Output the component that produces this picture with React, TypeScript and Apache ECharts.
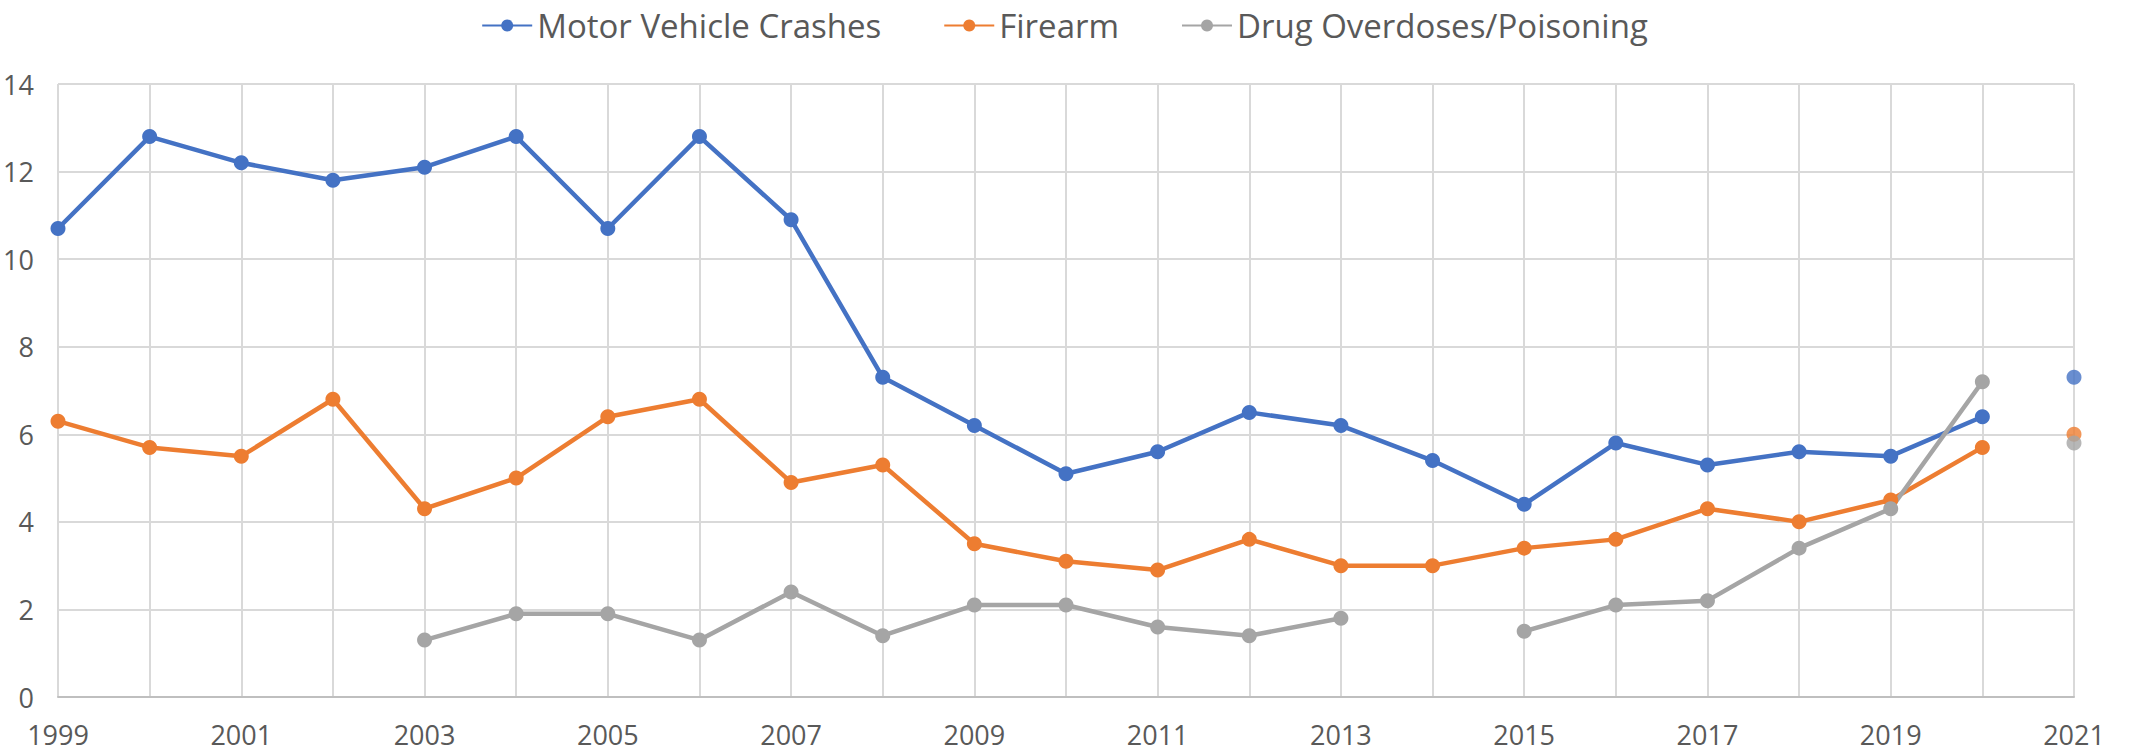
import React, { useEffect, useRef } from "react";
import * as echarts from "echarts";

const years = ["1999","2000","2001","2002","2003","2004","2005","2006","2007","2008","2009","2010","2011","2012","2013","2014","2015","2016","2017","2018","2019","2020","2021"];
const motorVehicle = [10.7, 12.8, 12.2, 11.8, 12.1, 12.8, 10.7, 12.8, 10.9, 7.3, 6.2, 5.1, 5.6, 6.5, 6.2, 5.4, 4.4, 5.8, 5.3, 5.6, 5.5, 6.4, null];
const firearm = [6.3, 5.7, 5.5, 6.8, 4.3, 5.0, 6.4, 6.8, 4.9, 5.3, 3.5, 3.1, 2.9, 3.6, 3.0, 3.0, 3.4, 3.6, 4.3, 4.0, 4.5, 5.7, null];
const drug = [null, null, null, null, 1.3, 1.9, 1.9, 1.3, 2.4, 1.4, 2.1, 2.1, 1.6, 1.4, 1.8, null, 1.5, 2.1, 2.2, 3.4, 4.3, 7.2, null];
// 2021 values are plotted as unconnected points
const year2021 = "2021";
const motorVehicle2021 = 7.3;
const firearm2021 = 6.0;
const drug2021 = 5.8;
const seriesNames = ["Motor Vehicle Crashes", "Firearm", "Drug Overdoses/Poisoning"];
const colors = ["#4472C4", "#ED7D31", "#A5A5A5"];

const FONT = "'Open Sans', sans-serif";

export default function App() {
  const ref = useRef<HTMLDivElement>(null);
  useEffect(() => {
    document.body.style.margin = "0";
    const chart = echarts.init(ref.current!, null, { renderer: "svg" });
    const lineSeries = (name: string, data: (number | null)[], color: string) => ({
      name,
      type: "line",
      data,
      connectNulls: false,
      symbol: "circle",
      symbolSize: 15,
      showSymbol: true,
      lineStyle: { color, width: 4.5 },
      itemStyle: { color },
      z: 3,
    });
    const pointSeries = (name: string, value: number, color: string) => ({
      name,
      type: "scatter",
      data: [[year2021, value]],
      symbol: "circle",
      symbolSize: 15,
      itemStyle: { color },
      z: 3,
    });
    chart.setOption({
      animation: false,
      backgroundColor: "#ffffff",
      legend: {
        data: seriesNames,
        top: 4,
        left: "center",
        itemWidth: 50,
        itemHeight: 15,
        itemGap: 62,
        textStyle: { fontFamily: FONT, fontSize: 33, color: "#595959" },
      },
      grid: { left: 58, right: 55, top: 84, bottom: 56, containLabel: false },
      xAxis: {
        type: "category",
        data: years,
        boundaryGap: false,
        axisLine: { show: true, lineStyle: { color: "#BFBFBF", width: 2 } },
        axisTick: { show: false },
        axisLabel: {
          interval: 1,
          margin: 24,
          fontFamily: FONT,
          fontSize: 27,
          color: "#595959",
        },
        splitLine: { show: true, interval: 0, lineStyle: { color: "#D9D9D9", width: 2 } },
      },
      yAxis: {
        type: "value",
        min: 0,
        max: 14,
        interval: 2,
        axisLine: { show: false },
        axisTick: { show: false },
        axisLabel: { margin: 24, fontFamily: FONT, fontSize: 27, color: "#595959" },
        splitLine: { show: true, lineStyle: { color: "#D9D9D9", width: 2 } },
      },
      series: [
        lineSeries(seriesNames[0], motorVehicle, colors[0]),
        lineSeries(seriesNames[1], firearm, colors[1]),
        lineSeries(seriesNames[2], drug, colors[2]),
        pointSeries(seriesNames[0] + " 2021", motorVehicle2021, colors[0]),
        pointSeries(seriesNames[1] + " 2021", firearm2021, colors[1]),
        pointSeries(seriesNames[2] + " 2021", drug2021, colors[2]),
      ],
    });
    return () => chart.dispose();
  }, []);
  return <div ref={ref} style={{ width: 2129, height: 753 }} />;
}
